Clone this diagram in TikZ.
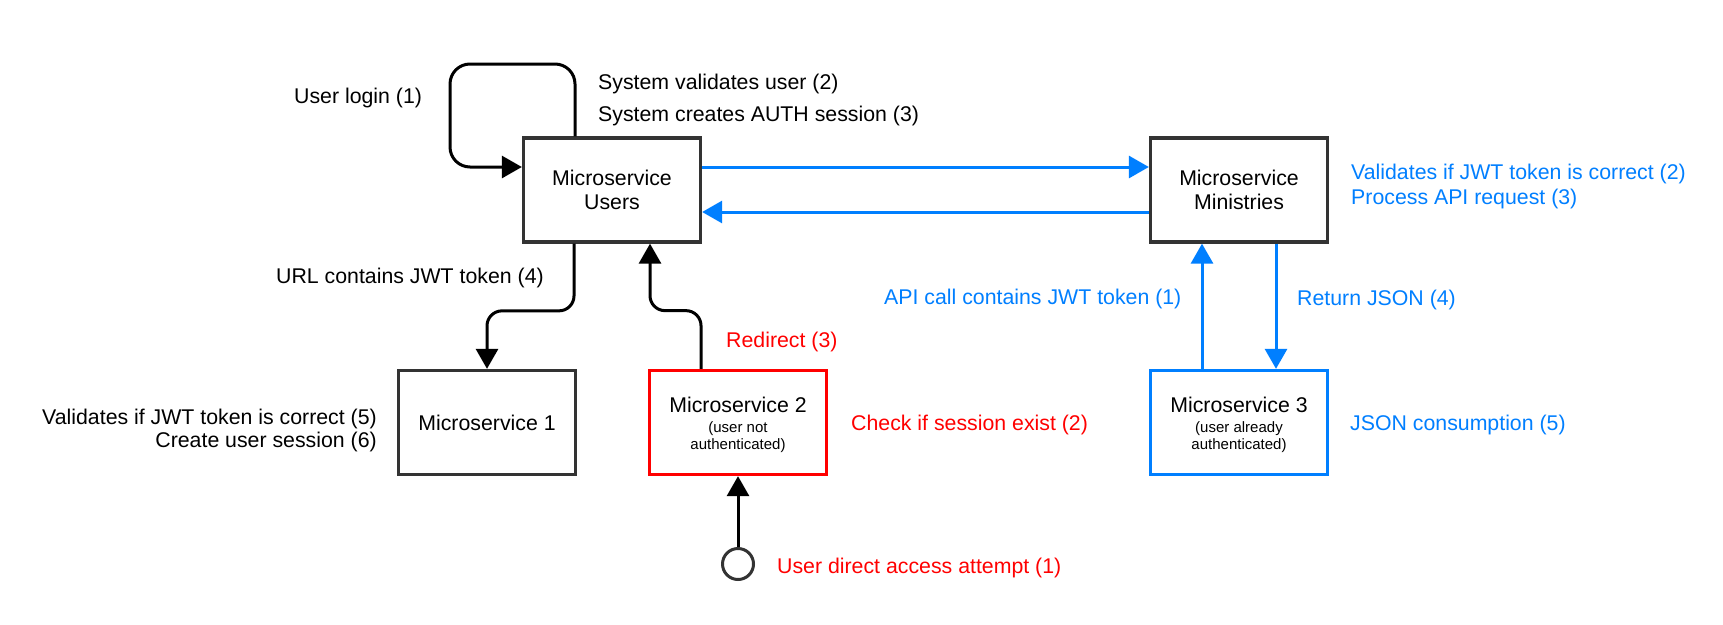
\documentclass[tikz,border=0pt]{standalone}
\usepackage{fontspec}
\setmainfont{Liberation Sans}
\usetikzlibrary{arrows.meta,calc}
\definecolor{azure}{RGB}{0,127,255}
\definecolor{boxgray}{RGB}{51,51,51}
\definecolor{alert}{RGB}{255,0,0}
\begin{document}
\begin{tikzpicture}[x=1pt,y=-1pt,
  every node/.style={font=\fontsize{21.3}{24}\selectfont, inner sep=0pt},
  msbox/.style={draw=boxgray, line width=3.3pt, fill=white, minimum width=177pt, minimum height=104pt, align=center},
  conn/.style={draw=black, line width=3pt, -{Triangle[length=20pt,width=22pt]}, rounded corners=15pt},
  bconn/.style={conn, draw=azure},
  lbl/.style={anchor=base west}]
\fill[white] (0,0) rectangle (1723,624);
\useasboundingbox (0,0) rectangle (1723,624);

% boxes
\node[msbox] (users) at (612,190) {Microservice\\Users};
\node[msbox] (min) at (1239,190) {Microservice\\Ministries};
\node[msbox] (ms1) at (487,422.5) {Microservice 1};
\node[msbox, draw=alert] (ms2) at (738,422.5) {\rule{0pt}{20.3pt}Microservice 2\\[-4pt]{\fontsize{15}{17}\selectfont (user not}\\[-7pt]{\fontsize{15}{17}\selectfont authenticated)}};
\node[msbox, draw=azure] (ms3) at (1239,422.5) {\rule{0pt}{20.3pt}Microservice 3\\[-4pt]{\fontsize{15}{17}\selectfont (user already}\\[-7pt]{\fontsize{15}{17}\selectfont authenticated)}};
\node[draw=boxgray, circle, line width=3pt, minimum size=31pt] (start) at (738,564) {};

% connectors
\draw[conn, rounded corners=20pt] ($(users.north)+(-37,0)$) -- (575,64) -- (450,64) -- (450,167) -- ($(users.west)+(0,-23)$);
\draw[bconn] ($(users.east)+(0,-23)$) -- ($(min.west)+(0,-23)$);
\draw[bconn] ($(min.west)+(0,22)$) -- ($(users.east)+(0,22)$);
\draw[conn] ($(users.south)+(-38,0)$) |- ($(ms1.north)+(0,-58)$) -- (ms1.north);
\draw[conn] ($(ms2.north)+(-37,0)$) |- ($(users.south)+(38,67)$) -- ($(users.south)+(38,0)$);
\draw[conn] (start) -- (ms2.south);
\draw[bconn] ($(ms3.north)+(-37,0)$) -- ($(min.south)+(-37,0)$);
\draw[bconn] ($(min.south)+(37,0)$) -- ($(ms3.north)+(37,0)$);

% labels
\node[lbl] (l1) at (294,103) {User login (1)};
\node[lbl] (l2) at (598,89.5) {System validates user (2)};
\node[lbl] (l3) at (598,121.5) {System creates AUTH session (3)};
\node[lbl] (l4) at (276,283.5) {URL contains JWT token (4)};
\node[anchor=east, align=right, font=\fontsize{21.3}{23.5}\selectfont] (l5) at (377,430.5) {Validates if JWT token is correct (5)\\Create user session (6)};
\node[lbl, text=alert] (r3) at (726,347.5) {Redirect (3)};
\node[lbl, text=alert] (r2) at (851,430) {Check if session exist (2)};
\node[lbl, text=alert] (r1) at (777,573) {User direct access attempt (1)};
\node[lbl, text=azure] (b1) at (884,304.5) {API call contains JWT token (1)};
\node[anchor=west, align=left, text=azure, font=\fontsize{21.3}{25}\selectfont] (b2) at (1351,186) {Validates if JWT token is correct (2)\\Process API request (3)};
\node[lbl, text=azure] (b4) at (1297,305.5) {Return JSON (4)};
\node[lbl, text=azure] (b5) at (1350,430) {JSON consumption (5)};
\end{tikzpicture}
\end{document}
